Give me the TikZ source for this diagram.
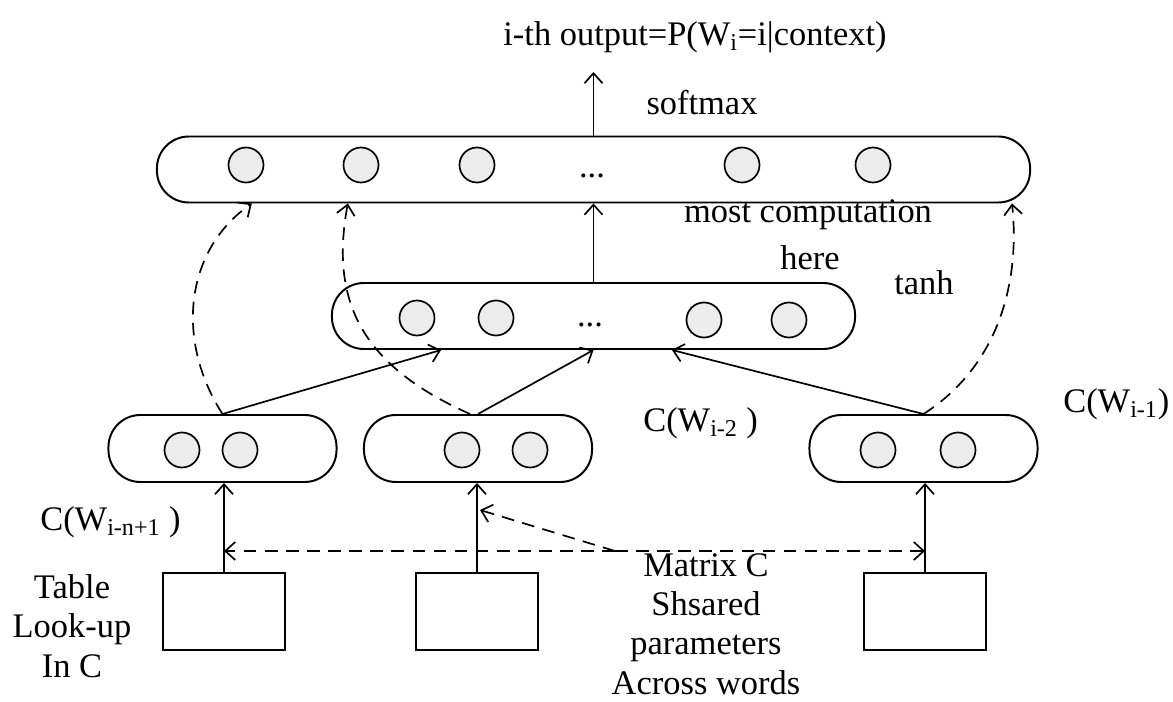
\documentclass[tikz,border=0pt]{standalone}
\usepackage{fontspec}
\setmainfont{Liberation Serif}
\usetikzlibrary{arrows.meta}
\tikzset{
    layer/.style={draw, line width=1.4pt, rounded corners=0.8cm, minimum height=1.65cm, inner sep=0pt},
    unit/.style={draw, circle, line width=1.2pt, fill=gray!15, minimum size=0.875cm, inner sep=0pt},
    lookbox/.style={draw, line width=1.4pt, minimum width=3.05cm, minimum height=1.925cm, inner sep=0pt},
    lbl/.style={font=\fontsize{24.5}{28}\selectfont, inner sep=0pt},
    link/.style={->, line width=1.2pt},
    share/.style={->, line width=1.2pt, dash pattern=on 9pt off 6pt},
}
\begin{document}
\begin{tikzpicture}[x=0.025cm, y=-0.025cm, >={Straight Barb[length=2.5mm,width=4.5mm]}]
    \useasboundingbox (0,0) rectangle (1173,702);

    % 1. Lớp đầu ra softmax
    \node[layer, minimum width=21.825cm] (outlayer) at (593.5,169.5) {};
    \node[unit] (o1) at (246,165) {};
    \node[unit] (o2) at (361,165) {};
    \node[unit] (o3) at (477,165) {};
    \node[unit] (o4) at (742,165) {};
    \node[unit] (o5) at (873,165) {};
    \node[lbl] (odots) at (592,176) {...};

    % 2. Lớp ẩn tanh
    \node[layer, minimum width=13.075cm] (hidlayer) at (593.5,316) {};
    \node[unit] (h1) at (417,318) {};
    \node[unit] (h2) at (496,318) {};
    \node[unit] (h3) at (704,320) {};
    \node[unit] (h4) at (789,320) {};
    \node[lbl] (hdots) at (590,325) {...};

    % 3. Các vector C(W)
    \node[layer, minimum width=5.7cm, minimum height=1.675cm] (featL) at (222.5,448.5) {};
    \node[unit] (fL1) at (182,450) {};
    \node[unit] (fL2) at (240,450) {};
    \node[layer, minimum width=5.7cm, minimum height=1.675cm] (featM) at (478,448.5) {};
    \node[unit] (fM1) at (462,450) {};
    \node[unit] (fM2) at (530,450) {};
    \node[layer, minimum width=5.7cm, minimum height=1.675cm] (featR) at (923.5,448.5) {};
    \node[unit] (fR1) at (878,450) {};
    \node[unit] (fR2) at (958,450) {};

    % 4. Bảng tra C
    \node[lookbox] (lookL) at (224,611.5) {};
    \node[lookbox] (lookM) at (477,611.5) {};
    \node[lookbox] (lookR) at (925,611.5) {};

    % 5. Nhãn
    \node[lbl] (title) at (695,37) {i-th output=P(W\textsubscript{i}=i|context)};
    \node[lbl] (softmax) at (702,103) {softmax};
    \node[lbl] (mostcomp) at (808,215) {most computation};
    \node[lbl] (here) at (810,258) {here};
    \node[lbl] (tanh) at (924,283) {tanh};
    \node[lbl, anchor=base west] (cw2) at (643,431) {C(W\textsubscript{i-2} )};
    \node[lbl, anchor=base west] (cw1) at (1063,412) {C(W\textsubscript{i-1})};
    \node[lbl, anchor=base west] (cwn) at (40,530) {C(W\textsubscript{i-n+1} )};
    \node[lbl, align=center] (tablelbl) at (72,626) {Table\\Look-up\\In C};
    \node[lbl, align=center] (matrixlbl) at (706,624) {Matrix C\\Shsared\\parameters\\Across words};

    % 6. Mũi tên liền
    \coordinate (outtip) at (593.5,72);
    \draw[link] (outlayer.north) -- (outtip);
    \draw[link] (hidlayer.north) -- (outlayer.south);
    \draw[link] (featL.north) -- ([xshift=-3.81cm]hidlayer.south);
    \draw[link] (featM.north) -- (hidlayer.south);
    \draw[link] (featR.north) -- ([xshift=1.96cm]hidlayer.south);
    \draw[link] (lookL.north) -- (lookL.north |- featL.south);
    \draw[link] (lookM.north) -- (lookM.north |- featM.south);
    \draw[link] (lookR.north) -- (lookR.north |- featR.south);

    % 7. Mũi tên nét đứt
    \draw[share] (featL.north) .. controls (175,340) and (185,250) .. ([xshift=-8.54cm]outlayer.south);
    \draw[share] ([xshift=-0.2cm]featM.north) .. controls (360,365) and (330,300) .. ([xshift=-6.14cm]outlayer.south);
    \draw[share] (featR.north) .. controls (1000,365) and (1020,280) .. ([xshift=10.46cm]outlayer.south);
    \coordinate (hub) at (615,551);
    \coordinate (sharetip) at (480,510);
    \draw[share] (hub) -- (hub -| lookL.north);
    \draw[share] (hub) -- (hub -| lookR.north);
    \draw[share] (hub) -- (sharetip);
\end{tikzpicture}
\end{document}
